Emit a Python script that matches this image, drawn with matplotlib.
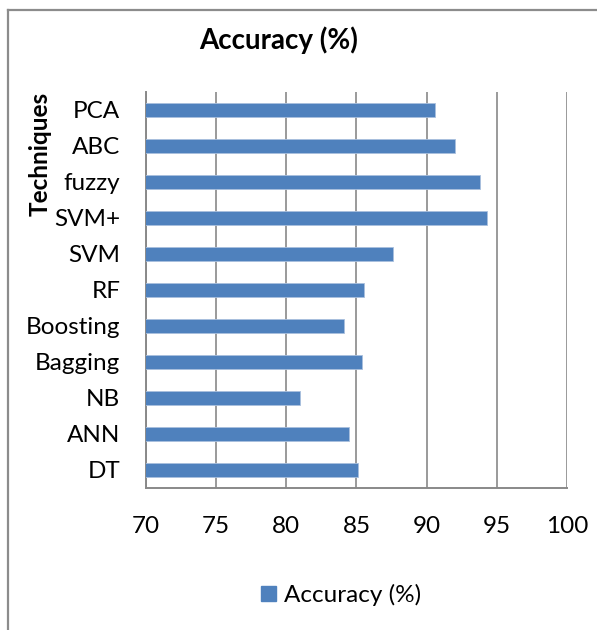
import matplotlib
matplotlib.use("Agg")
import matplotlib.pyplot as plt
from matplotlib.lines import Line2D
from matplotlib.patches import Patch

categories = ["DT", "ANN", "NB", "Bagging", "Boosting", "RF", "SVM", "SVM+", "fuzzy", "ABC", "PCA"]
accuracy = [85.1, 84.5, 81.0, 85.4, 84.1, 85.5, 87.6, 94.3, 93.8, 92.0, 90.6]
xticks = [70, 75, 80, 85, 90, 95, 100]
series_name = "Accuracy (%)"
title = "Accuracy (%)"
ylabel = "Techniques"

plt.rcParams['font.family'] = ['Lato', 'DejaVu Sans']

W, H = 597, 630
fig = plt.figure(figsize=(W / 100, H / 100), dpi=100)

def fx(px):
    return px / W

def fy(py):
    return 1 - py / H

ax = fig.add_axes([fx(146), fy(488), fx(567) - fx(146), fy(92) - fy(488)])
bar_color = "#4F81BD"
grid_color = "#898989"

ypos = list(range(len(categories)))
ax.barh(ypos, accuracy, height=0.39, color=bar_color, edgecolor="#A9C0DE", linewidth=0.6, zorder=3)
ax.set_xlim(70, 100)
ax.set_ylim(-0.5, len(categories) - 0.5)
ax.set_xticks(xticks)
ax.set_xticklabels([str(t) for t in xticks])
ax.set_yticks(ypos)
ax.set_yticklabels(categories)
ax.xaxis.grid(True, color=grid_color, linewidth=1.2, zorder=1)
ax.set_axisbelow(True)
for s in ["top", "right"]:
    ax.spines[s].set_visible(False)
for s in ["left", "bottom"]:
    ax.spines[s].set_color(grid_color)
    ax.spines[s].set_linewidth(1.4)
ax.tick_params(axis="both", length=0, labelsize=17.5, colors="black")
ax.tick_params(axis="x", pad=20)
ax.tick_params(axis="y", pad=18.5)

fig.text(fx(279), fy(40), title, ha="center", va="center", fontsize=20, fontweight="bold")
fig.text(fx(40), fy(154), ylabel, ha="center", va="center", rotation=90, fontsize=17.5, fontweight="bold")

handles = [Patch(facecolor=bar_color, edgecolor=bar_color, label=series_name)]
fig.legend(handles=handles, loc="center", bbox_to_anchor=(fx(341), fy(595)), frameon=False,
           fontsize=17.5, handlelength=0.62, handleheight=0.62, handletextpad=0.3)

frame_color = "#8C8C8C"
fig.add_artist(Line2D([fx(8), fx(8)], [0, fy(10)], color=frame_color, linewidth=1.6))
fig.add_artist(Line2D([fx(8), 1], [fy(10), fy(10)], color=frame_color, linewidth=1.6))

fig.savefig("out.png", dpi=100, facecolor="white")
